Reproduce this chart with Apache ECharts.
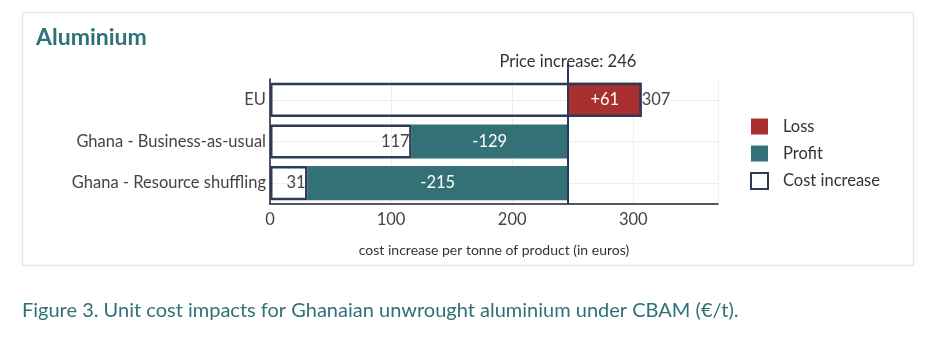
<!DOCTYPE html>
<html>
<head>
<meta charset="utf-8">
<script src="https://cdn.jsdelivr.net/npm/echarts@6/dist/echarts.min.js"></script>
<style>
html,body{margin:0;padding:0;background:#fff;}
#chart{width:932px;height:342px;}
</style>
</head>
<body>
<div id="chart"></div>
<script>
var categories = ['EU', 'Ghana - Business-as-usual', 'Ghana - Resource shuffling'];
var costIncrease = [307, 117, 31];
var priceIncrease = 246;
var loss = [61, 0, 0];
var profit = [0, 129, 215];
var xTicks = [0, 100, 200, 300];

var FONT = 'Lato';
var NAVY = '#2c3b5a';
var RED = '#a8302e';
var TEAL = '#337177';
var TITLE_C = '#2f7179';

// base of the coloured segment = lower of cost and price
var base = costIncrease.map(function (c, i) { return Math.min(c, priceIncrease); });

var chart = echarts.init(document.getElementById('chart'), null, {renderer: 'canvas'});

var option = {
  backgroundColor: '#fff',
  animation: false,
  textStyle: {fontFamily: FONT},
  graphic: [
    {type: 'rect', z: -10, silent: true,
     shape: {x: 22.5, y: 12.5, width: 891, height: 253, r: 2},
     style: {fill: '#fff', stroke: '#e8e8e8', lineWidth: 1.5}},
    {type: 'text', left: 22, top: 301, silent: true,
     style: {text: 'Figure 3. Unit cost impacts for Ghanaian unwrought aluminium under CBAM (€/t).',
             fill: TITLE_C, font: '20px Lato'}}
  ],
  title: {
    text: 'Aluminium', left: 31, top: 21,
    textStyle: {fontFamily: FONT, fontSize: 23, fontWeight: 'bold', color: TITLE_C}
  },
  legend: {
    orient: 'vertical', left: 745, top: 113,
    itemWidth: 17, itemHeight: 16, itemGap: 10, icon: 'rect',
    data: ['Loss', 'Profit', 'Cost increase'],
    textStyle: {fontFamily: FONT, fontSize: 16.5, color: '#333', padding: [0, 0, 0, 10]},
    selectedMode: false
  },
  grid: [
    {left: 270, right: 214, top: 79, bottom: 138},
    {left: 270, right: 214, top: 63, bottom: 138}
  ],
  xAxis: [
    {type: 'value', gridIndex: 0, min: 0, max: 370, interval: 100,
     name: 'cost increase per tonne of product (in euros)', nameLocation: 'middle', nameGap: 39,
     nameTextStyle: {fontFamily: FONT, fontSize: 14, color: '#333'},
     axisLine: {show: true, lineStyle: {color: '#222', width: 1.5}},
     axisTick: {show: false},
     axisLabel: {fontFamily: FONT, fontSize: 16.5, color: '#444', margin: 7, showMaxLabel: false,
                 formatter: function (v) { return xTicks.indexOf(v) >= 0 ? String(v) : ''; }},
     splitLine: {show: true, lineStyle: {color: '#eceef1', width: 1}}
    },
    {type: 'value', gridIndex: 1, min: 0, max: 370, show: false}
  ],
  yAxis: [
    {type: 'category', gridIndex: 0, data: categories, inverse: true,
     axisLine: {show: true, lineStyle: {color: '#222', width: 1.5}},
     axisTick: {show: false},
     axisLabel: {fontFamily: FONT, fontSize: 16.5, color: '#444', margin: 4},
     splitLine: {show: false}
    },
    {type: 'value', gridIndex: 1, min: 0, max: 1, show: false}
  ],
  series: [
    {
      name: 'base', type: 'bar', stack: 'delta', barGap: '-100%', barCategoryGap: '18%',
      data: base, itemStyle: {color: 'rgba(0,0,0,0)'}, silent: true, z: 1,
      markLine: {
        silent: true, symbol: 'none', z: 0,
        label: {show: false},
        lineStyle: {color: '#eceef1', width: 1, type: 'solid'},
        data: categories.map(function (c) { return {yAxis: c}; })
      }
    },
    {
      name: 'Loss', type: 'bar', stack: 'delta', barGap: '-100%', barCategoryGap: '18%',
      data: loss.map(function (v) { return v === 0 ? '-' : v; }),
      itemStyle: {color: RED}, z: 2,
      label: {show: true, position: 'inside', color: '#fff', fontFamily: FONT, fontSize: 16.5,
              formatter: function (p) { return '+' + p.value; }}
    },
    {
      name: 'Profit', type: 'bar', stack: 'delta', barGap: '-100%', barCategoryGap: '18%',
      data: profit.map(function (v) { return v === 0 ? '-' : v; }),
      itemStyle: {color: TEAL}, z: 2,
      label: {show: true, position: 'inside', color: '#fff', fontFamily: FONT, fontSize: 16.5,
              formatter: function (p) { return '-' + p.value; }}
    },
    {
      name: 'Cost increase', type: 'bar', barGap: '-100%', barCategoryGap: '18%',
      data: costIncrease.map(function (v) {
        var outside = v > priceIncrease;
        return {value: v, label: {position: outside ? 'right' : 'insideRight', distance: outside ? 0 : 2}};
      }),
      itemStyle: {color: 'rgba(255,255,255,0)', borderColor: NAVY, borderWidth: 2.5}, z: 3,
      label: {show: true, color: '#444', fontFamily: FONT, fontSize: 16.5}
    },
    {
      name: 'price', type: 'line', xAxisIndex: 1, yAxisIndex: 1, data: [], z: 5,
      markLine: {
        silent: true, symbol: 'none',
        lineStyle: {color: NAVY, width: 2, type: 'solid'},
        label: {show: true, position: 'end', distance: -7, formatter: 'Price increase: ' + priceIncrease,
                fontFamily: FONT, fontSize: 16.5, color: '#333'},
        data: [{xAxis: priceIncrease}]
      }
    }
  ]
};
chart.setOption(option);
</script>
</body>
</html>
